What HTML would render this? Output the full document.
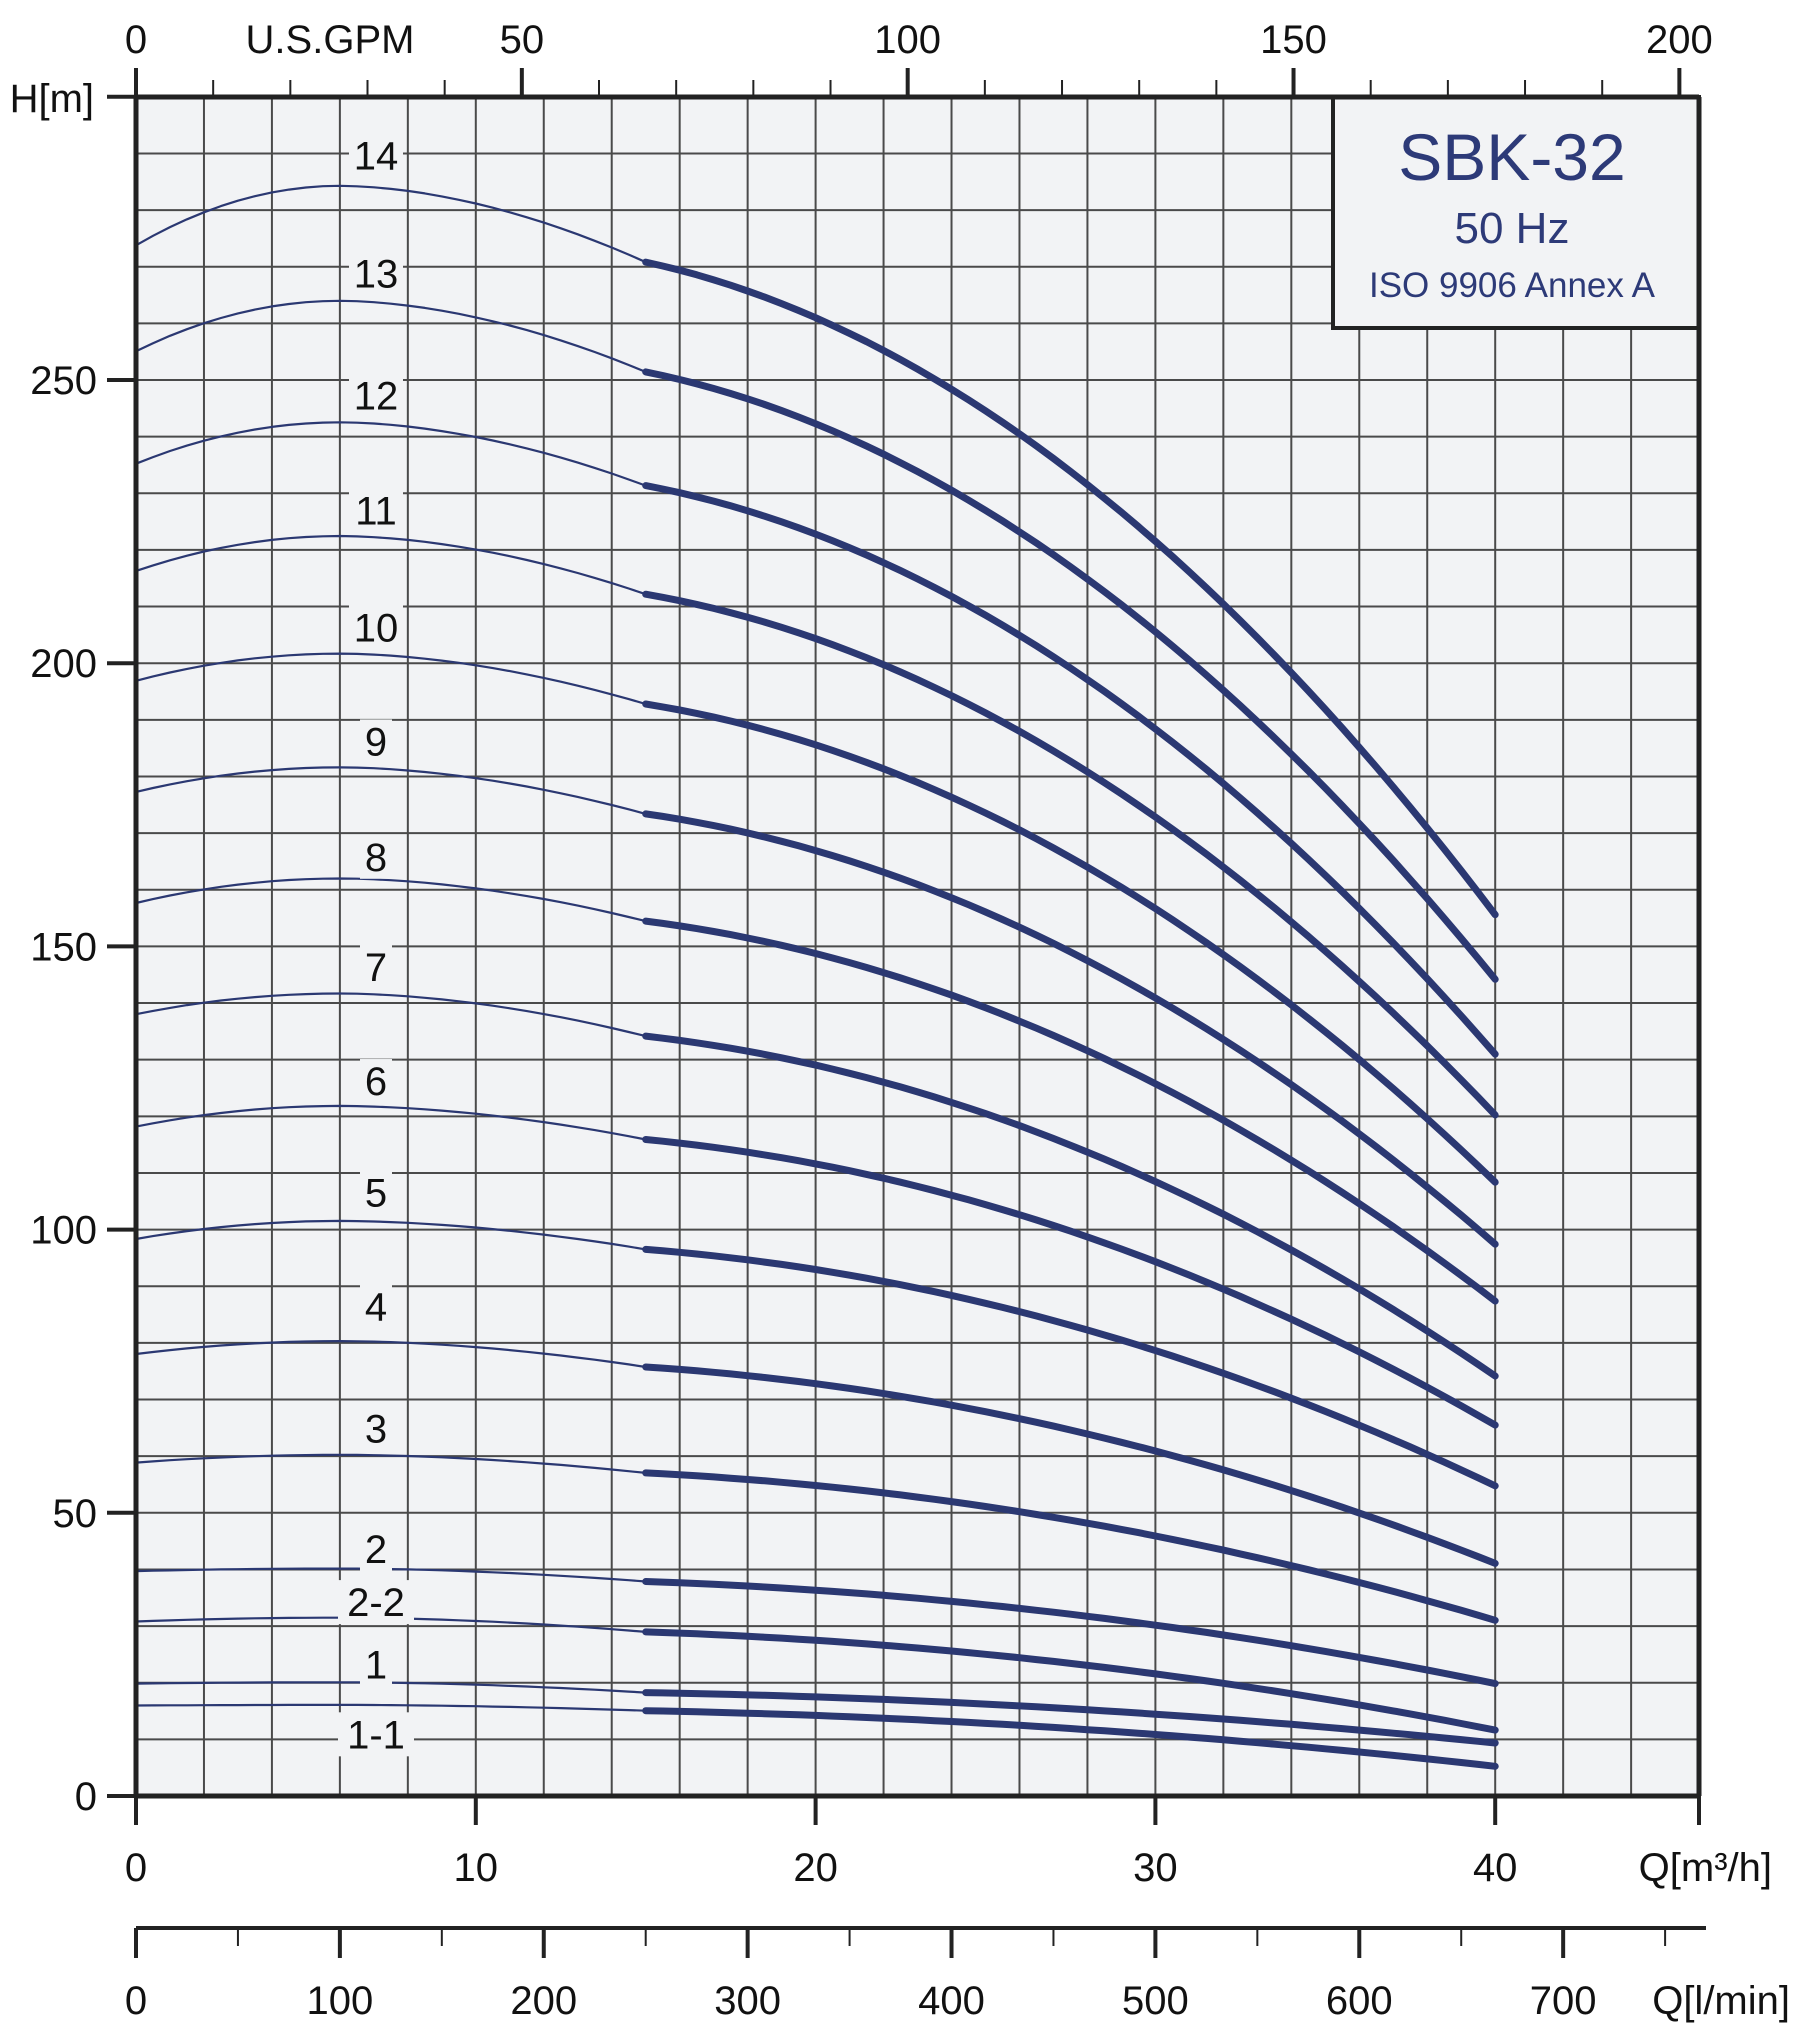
<!DOCTYPE html>
<html><head><meta charset="utf-8"><style>
html,body{margin:0;padding:0;background:#fff}
svg{display:block}
text{font-family:"Liberation Sans",Arial,sans-serif}
</style></head><body>
<svg id="s" xmlns="http://www.w3.org/2000/svg" width="1794" height="2026" viewBox="0 0 1794 2026">
<rect x="136" y="97" width="1563" height="1699" fill="#f2f3f5"/>
<g id="grid" stroke="#4a4a4a" stroke-width="2"></g>
<g id="curves" fill="none" stroke="#2b3872" stroke-linecap="round" stroke-linejoin="round"></g>
<g id="labels" font-size="40" fill="#111" text-anchor="middle"></g>
<rect x="1333" y="97" width="366" height="231" fill="#f2f3f5" stroke="#222" stroke-width="4"/>
<text x="1512" y="180" font-size="66" fill="#2d3a78" text-anchor="middle">SBK-32</text>
<text x="1512" y="243" font-size="44" fill="#2d3a78" text-anchor="middle">50 Hz</text>
<text x="1512" y="297" font-size="35" fill="#2d3a78" text-anchor="middle">ISO 9906 Annex A</text>
<g id="axes" stroke="#222" fill="none" stroke-linecap="butt"></g>
<g id="ticktext" font-size="40" fill="#111"></g>
</svg>
<script>
const NS="http://www.w3.org/2000/svg";
function el(p,t,a,txt){const e=document.createElementNS(NS,t);for(const k in a)e.setAttribute(k,a[k]);if(txt!==undefined)e.textContent=txt;document.getElementById(p).appendChild(e);return e;}
const X=q=>136+q*33.98, Y=h=>1796-h*5.664;
for(let q=2;q<46;q+=2) el("grid","line",{x1:X(q),y1:97,x2:X(q),y2:1796});
for(let h=10;h<300;h+=10) el("grid","line",{x1:136,y1:Y(h),x2:1699,y2:Y(h)});
const H=y=>(1390-y)/4.383;
const data=[["14",190,144,203,708,120],["13",272,233,288,758,211],["12",359,327,376,816,305],["11",442,415,460,863,394],["10",527,506,545,915,484],["9",613,594,630,963,572],["8",699,680,713,1007,661],["7",785,769,802,1065,746],["6",872,856,882,1103,834],["5",959,945,967,1150,920],["4",1048,1038,1058,1210,1008],["3",1132,1126,1140,1254,1102],["2",1216,1214,1224,1303,1195],["2-2",1255,1252,1263,1339,1236],["1",1303,1302,1310,1349,1284],["1-1",1320,1319.5,1324,1367,1338]];
data.forEach(d=>{
 const h0=H(d[1]),hp=H(d[2]),h15=H(d[3]),h40=H(d[4]);
 const f=q=>q<=6? hp-(hp-h0)*Math.pow(1-q/6,2) : hp-(hp-h15)*Math.pow((q-6)/9,1.8);
 let p="";for(let q=0;q<=15.001;q+=0.5)p+=(q?"L":"M")+X(q).toFixed(1)+","+Y(f(q)).toFixed(1);
 el("curves","path",{d:p,"stroke-width":2.2});
 let p2="";for(let q=15;q<=40.001;q+=0.5){const t=(q-15)/25;const g=1-0.283*t-0.717*t*t;p2+=(q>15?"L":"M")+X(q).toFixed(1)+","+Y(h40+(h15-h40)*g).toFixed(1);}
 el("curves","path",{d:p2,"stroke-width":7});
 const ly=d[5]*1.2962;
 const w=d[0].length*22+10;
 el("labels","rect",{x:376-w/2,y:ly-22,width:w,height:44,fill:"#f2f3f5"});
 el("labels","text",{x:376,y:ly+14},d[0]);
});
const A=(x1,y1,x2,y2,w)=>el("axes","line",{x1,y1,x2,y2,"stroke-width":w});
A(136,97,1699,97,5);A(1699,97,1699,1796,5);A(136,97,136,1796,5);A(136,1796,1699,1796,5);
for(let h=0;h<=300;h+=50){A(107,Y(h),136,Y(h),4);}
const T=(x,y,s,anc)=>el("ticktext","text",{x,y,"text-anchor":anc||"middle"},s);
for(let h=0;h<=250;h+=50)T(97,Y(h)+14,String(h),"end");
T(94,112,"H[m]","end");
for(let q=0;q<=40;q+=10){A(X(q),1796,X(q),1825,4);T(X(q),1881,String(q));}
A(1699,1796,1699,1825,4);
el("ticktext","text",{x:1772,y:1881,"text-anchor":"end"},"Q[m\u00b3/h]");
const G=g=>X(g*0.2271);
for(let g=0;g<=200;g+=10){if(g%50==0)A(G(g),68,G(g),97,4);else A(G(g),80,G(g),97,2);}
for(let g=0;g<=200;g+=50)T(G(g),53,String(g));
T(330,53,"U.S.GPM");
A(136,1928,1706,1928,4);
const L=l=>X(l*0.06);
for(let l=0;l<=750;l+=50){if(l%100==0){A(L(l),1928,L(l),1958,4);T(L(l),2014,String(l));}else A(L(l),1928,L(l),1946,2);}
el("ticktext","text",{x:1790,y:2014,"text-anchor":"end"},"Q[l/min]");
</script>
</body></html>
